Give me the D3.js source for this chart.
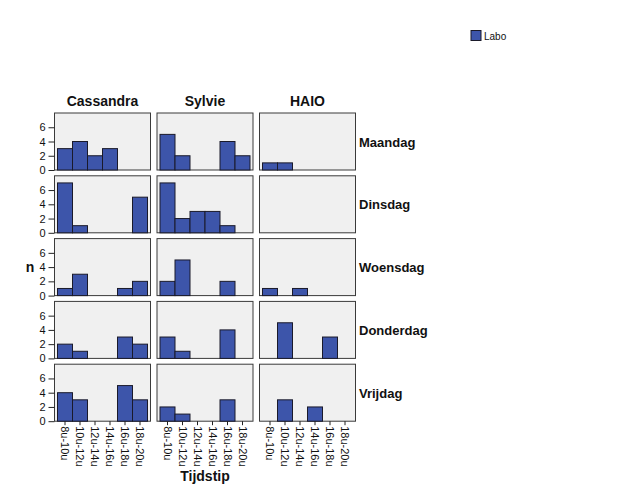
<!DOCTYPE html>
<html><head><meta charset="utf-8">
<script src="https://cdn.jsdelivr.net/npm/d3@7"></script>
<style>body{margin:0;background:#fff;}svg{display:block;font-family:"Liberation Sans",Arial,sans-serif;}</style>
</head><body>
<svg id="c" width="626" height="501"></svg>
<script>
const timeslots = ["8u-10u","10u-12u","12u-14u","14u-16u","16u-18u","18u-20u"];
const persons = ["Cassandra","Sylvie","HAIO"];
const days = ["Maandag","Dinsdag","Woensdag","Donderdag","Vrijdag"];
const yTicks = [0,2,4,6];
// counts per person, per day, per timeslot
const cassandra = [[3,4,2,3,0,0],[7,1,0,0,0,5],[1,3,0,0,1,2],[2,1,0,0,3,2],[4,3,0,0,5,3]];
const sylvie    = [[5,2,0,0,4,2],[7,2,3,3,1,0],[2,5,0,0,2,0],[3,1,0,0,4,0],[2,1,0,0,3,0]];
const haio      = [[1,1,0,0,0,0],[0,0,0,0,0,0],[1,0,1,0,0,0],[0,5,0,0,3,0],[0,3,0,2,0,0]];
const seriesName = "Labo";
const values = [cassandra, sylvie, haio];

const svg = d3.select("#c");
const barColor = "#3d55aa";
const gridLeft = 54.5, gridTop = 113, pw = 96, ph = 57, gx = 6.5, gy = 5.8;

const colX = d3.scaleBand().domain(persons).range([gridLeft, gridLeft + 3*pw + 2*gx]).paddingInner(gx/(pw+gx)).paddingOuter(0);
const rowY = d3.scaleBand().domain(days).range([gridTop, gridTop + 5*ph + 4*gy]).paddingInner(gy/(ph+gy)).paddingOuter(0);
const x = d3.scaleBand().domain(timeslots).range([0, pw]).paddingInner(0).paddingOuter(0.2);
const y = d3.scaleLinear().domain([0, 8]).range([ph, 0]);

persons.forEach((p, pi) => {
  days.forEach((d, di) => {
    const g = svg.append("g").attr("transform", `translate(${colX(p)},${rowY(d)})`);
    g.append("rect").attr("x",0).attr("y",0).attr("width",pw).attr("height",ph)
      .attr("fill","#f0f0f0").attr("stroke","#3a3a3a").attr("stroke-width",1);
    const vals = values[pi][di];
    g.selectAll("rect.bar").data(timeslots.map((t,i)=>({t, v: vals[i]})).filter(e=>e.v>0))
      .enter().append("rect").attr("class","bar")
      .attr("x", e => x(e.t)).attr("width", x.bandwidth())
      .attr("y", e => y(e.v)).attr("height", e => ph - y(e.v))
      .attr("fill", barColor).attr("stroke","#1a1a2a").attr("stroke-width",1);
    if (pi === 0) {
      const ax = g.append("g").call(d3.axisLeft(y).tickValues(yTicks).tickSize(6).tickSizeOuter(0));
      ax.select(".domain").remove();
      ax.selectAll("line").attr("stroke","#222");
      ax.selectAll("text").attr("font-size","11px").attr("fill","#111").attr("font-family","Liberation Sans, Arial, sans-serif");
    }
    if (di === days.length - 1) {
      const ax = g.append("g").attr("transform",`translate(0,${ph})`)
        .call(d3.axisBottom(x).tickSize(4).tickSizeOuter(0));
      ax.select(".domain").remove();
      ax.selectAll("line").attr("stroke","#222");
      ax.selectAll("text").attr("font-size","11px").attr("fill","#111")
        .attr("font-family","Liberation Sans, Arial, sans-serif")
        .attr("transform","rotate(90)").attr("text-anchor","start")
        .attr("x", 5).attr("y", 0).attr("dy","0.35em");
    }
  });
});

// column headers
svg.selectAll("text.colh").data(persons).enter().append("text").attr("class","colh")
  .attr("x", p => colX(p) + pw/2).attr("y", 106).attr("text-anchor","middle")
  .attr("font-size","14px").attr("font-weight","bold").attr("fill","#111").text(p => p);
// row labels
svg.selectAll("text.rowh").data(days).enter().append("text").attr("class","rowh")
  .attr("x", colX(persons[2]) + pw + 3.5).attr("y", d => rowY(d) + ph/2 + 5)
  .attr("font-size","13px").attr("font-weight","bold").attr("fill","#111").text(d => d);
// axis titles
svg.append("text").attr("x", colX(persons[1]) + pw/2).attr("y", 481).attr("text-anchor","middle")
  .attr("font-size","14px").attr("font-weight","bold").attr("fill","#111").text("Tijdstip");
svg.append("text").attr("x", 30).attr("y", 272).attr("text-anchor","middle")
  .attr("font-size","14px").attr("font-weight","bold").attr("fill","#111").text("n");
// legend
svg.append("rect").attr("x",471).attr("y",30.5).attr("width",10).attr("height",10)
  .attr("fill",barColor).attr("stroke","#1a1a2a");
svg.append("text").attr("x",484).attr("y",40).attr("font-size","10px").attr("fill","#111").text(seriesName);
</script>
</body></html>
